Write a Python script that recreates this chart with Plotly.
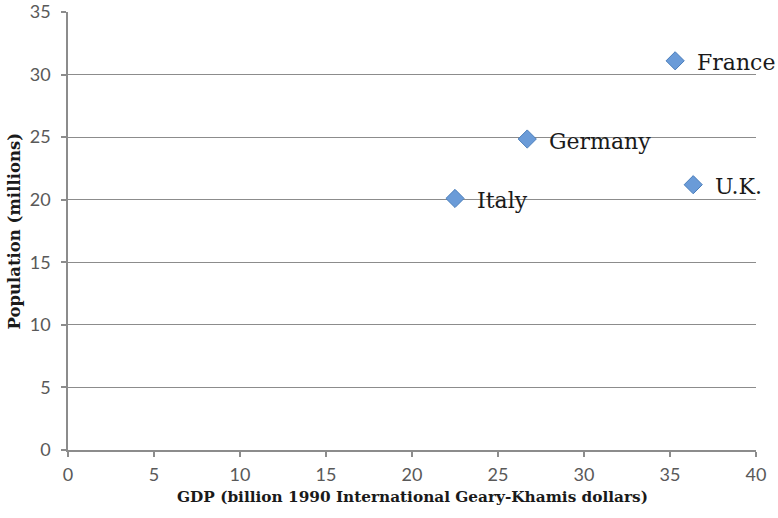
import plotly.graph_objects as go

countries = ["France", "Germany", "U.K.", "Italy"]
gdp = [35.3, 26.7, 36.35, 22.5]
population = [31.1, 24.85, 21.2, 20.1]

x_ticks = [0, 5, 10, 15, 20, 25, 30, 35, 40]
y_ticks = [0, 5, 10, 15, 20, 25, 30, 35]

fig = go.Figure()
fig.add_trace(go.Scatter(
    x=gdp, y=population, mode="markers",
    marker=dict(symbol="diamond", size=14, color="#6a9bd8",
                line=dict(color="#4a7ebb", width=1)),
    showlegend=False, hoverinfo="skip"))

for c, xv, yv in zip(countries, gdp, population):
    fig.add_annotation(x=xv, y=yv, text=c, showarrow=False, xanchor="left",
                       xshift=20, yshift=-2,
                       font=dict(family="DejaVu Serif", size=22, color="#1a1a1a"))

axis_common = dict(showline=True, linecolor="#8c8c8c", linewidth=1.5,
                   ticks="outside", ticklen=5, tickcolor="#8c8c8c", tickwidth=1.5,
                   tickfont=dict(family="Lato", size=18, color="#595959"),
                   zeroline=False, automargin=False)

fig.update_xaxes(range=[0, 40], tickvals=x_ticks, showgrid=False,
                 ticklabelstandoff=3, **axis_common)
fig.update_yaxes(range=[0, 35], tickvals=y_ticks, showgrid=True,
                 gridcolor="#8c8c8c", gridwidth=1, ticklabelstandoff=7, **axis_common)

fig.add_annotation(xref="paper", yref="paper", x=0.5, y=0, yshift=-36,
                   yanchor="top", showarrow=False,
                   text="<b>GDP (billion 1990 International Geary-Khamis dollars)</b>",
                   font=dict(family="DejaVu Serif", size=15.3, color="#1a1a1a"))
fig.add_annotation(xref="paper", yref="paper", x=0, y=0.5, xshift=-66,
                   xanchor="left", showarrow=False, textangle=-90,
                   text="<b>Population (millions)</b>",
                   font=dict(family="DejaVu Serif", size=16.5, color="#1a1a1a"))

fig.update_layout(width=778, height=518, autosize=False,
                  margin=dict(l=68, r=22, t=12, b=68, autoexpand=False),
                  plot_bgcolor="white", paper_bgcolor="white")

fig.write_html("out.html", config={"displayModeBar": False},
               post_script="document.body.style.margin='0';document.body.style.overflow='hidden';")
